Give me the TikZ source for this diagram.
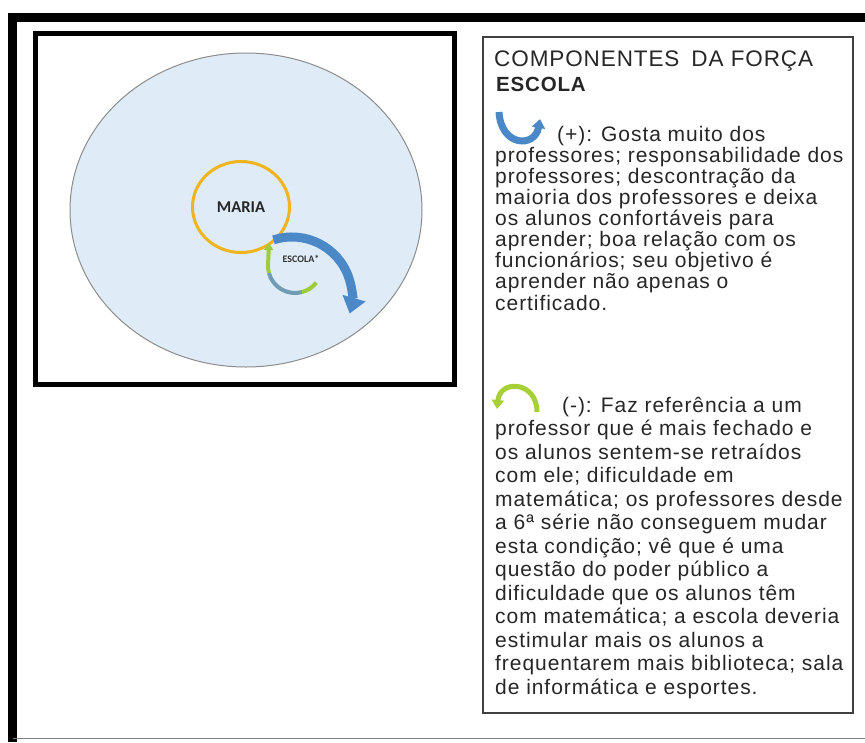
\documentclass[tikz,border=0pt]{standalone}
\usepackage{fontspec}
\setmainfont{Liberation Sans}
\newfontfamily\legendfont[LetterSpace=4.5]{Liberation Sans}
\newfontfamily\titlefont[LetterSpace=4]{Liberation Sans}
\newfontfamily\calibri{Carlito}
\usetikzlibrary{arrows.meta, positioning, shapes.geometric}
\definecolor{skyfill}{HTML}{DFECF8}
\definecolor{ringgold}{HTML}{F0B41E}
\definecolor{arrowblue}{HTML}{4A88C7}
\definecolor{arrowgreen}{HTML}{9CCB3B}
\definecolor{arrowslate}{HTML}{6F9BB5}
\definecolor{textgray}{HTML}{262626}

\begin{document}
\begin{tikzpicture}[
    x=1pt, y=-1pt,
    frame/.style={draw=black, line width=9pt},
    panel/.style={draw=black, line width=5pt},
    legendbox/.style={draw=black!75, line width=1.3pt},
    bodytext/.style={anchor=north west, inner sep=0pt, align=left, text=textgray, font=\legendfont\fontsize{21}{23.5}\selectfont},
    bluearr/.style={arrowblue, line width=9pt, -{Triangle[width=23pt,length=16pt]}},
    greenarr/.style={arrowgreen, line width=4pt},
    slatearr/.style={arrowslate, line width=4pt}
]
\useasboundingbox (0,0) rectangle (865,742);

% outer frame
\draw[frame] (12.5,742) -- (12.5,17.5) -- (865,17.5);
\draw[gray, line width=1.5pt] (12.5,738.5) -- (865,738.5);

% left panel
\draw[panel] (35,33) rectangle (454,384);
\node[ellipse, draw=black!45, line width=1pt, fill=skyfill, minimum width=352pt, minimum height=314pt, inner sep=0pt] (field) at (246,210) {};
\node[ellipse, draw=ringgold, line width=3pt, minimum width=97pt, minimum height=91pt, inner sep=0pt,
      font=\calibri\bfseries\fontsize{16.5}{18}\selectfont, text=black!85] (maria) at (241,207) {MARIA};

% escola arrows
\coordinate (outerc) at (292,297);
\coordinate (innerc) at (295,266);
\draw[bluearr] (outerc) ++(-108:60) arc[start angle=-108, end angle=16, radius=60];
\draw[greenarr] (innerc) ++(38:27) arc[start angle=38, end angle=75, radius=27];
\draw[slatearr] (innerc) ++(75:27) arc[start angle=75, end angle=165, radius=27];
\draw[greenarr, -{Triangle[width=9pt,length=7pt]}] (innerc) ++(165:27) arc[start angle=165, end angle=185, radius=27] -- (269,243);
\node[font=\calibri\bfseries\fontsize{10}{12}\selectfont, text=black!80] (escola) at (301,259) {ESCOLA*};

% legend
\draw[legendbox] (483,37) rectangle (853,713);
\node[anchor=base west, inner sep=0pt, text=textgray, font=\titlefont\fontsize{22.5}{24}\selectfont] (title) at (494,66)
    {COMPONENTES\hspace{12pt}DA FORÇA};
\node[anchor=base west, inner sep=0pt, text=textgray, font=\titlefont\bfseries\fontsize{20.5}{24}\selectfont] (force) at (496,91) {ESCOLA};

\draw[arrowblue, line width=7pt, -{Triangle[width=13pt,length=9pt]}] (499,112) .. controls (501,147) and (535,148) .. (540,119);
\node[bodytext, font=\legendfont\fontsize{21}{21.1}\selectfont] (plus) at (495,121) {\rule{0pt}{20pt}\hspace*{62pt}(+): Gosta muito dos\\
    professores; responsabilidade dos\\
    professores; descontração da\\
    maioria dos professores e deixa\\
    os alunos confortáveis para\\
    aprender; boa relação com os\\
    funcionários; seu objetivo é\\
    aprender não apenas o\\
    certificado.};

\draw[arrowgreen!90!yellow, line width=5pt, -{Triangle[width=12pt,length=9pt]}] (537,412) .. controls (537,381) and (500,379) .. (497,409);
\node[bodytext] (minus) at (495,392) {\rule{0pt}{20pt}\hspace*{67pt}(-): Faz referência a um\\
    professor que é mais fechado e\\
    os alunos sentem-se retraídos\\
    com ele; dificuldade em\\
    matemática; os professores desde\\
    a 6ª série não conseguem mudar\\
    esta condição; vê que é uma\\
    questão do poder público a\\
    dificuldade que os alunos têm\\
    com matemática; a escola deveria\\
    estimular mais os alunos a\\
    frequentarem mais biblioteca; sala\\
    de informática e esportes.};

\end{tikzpicture}
\end{document}
